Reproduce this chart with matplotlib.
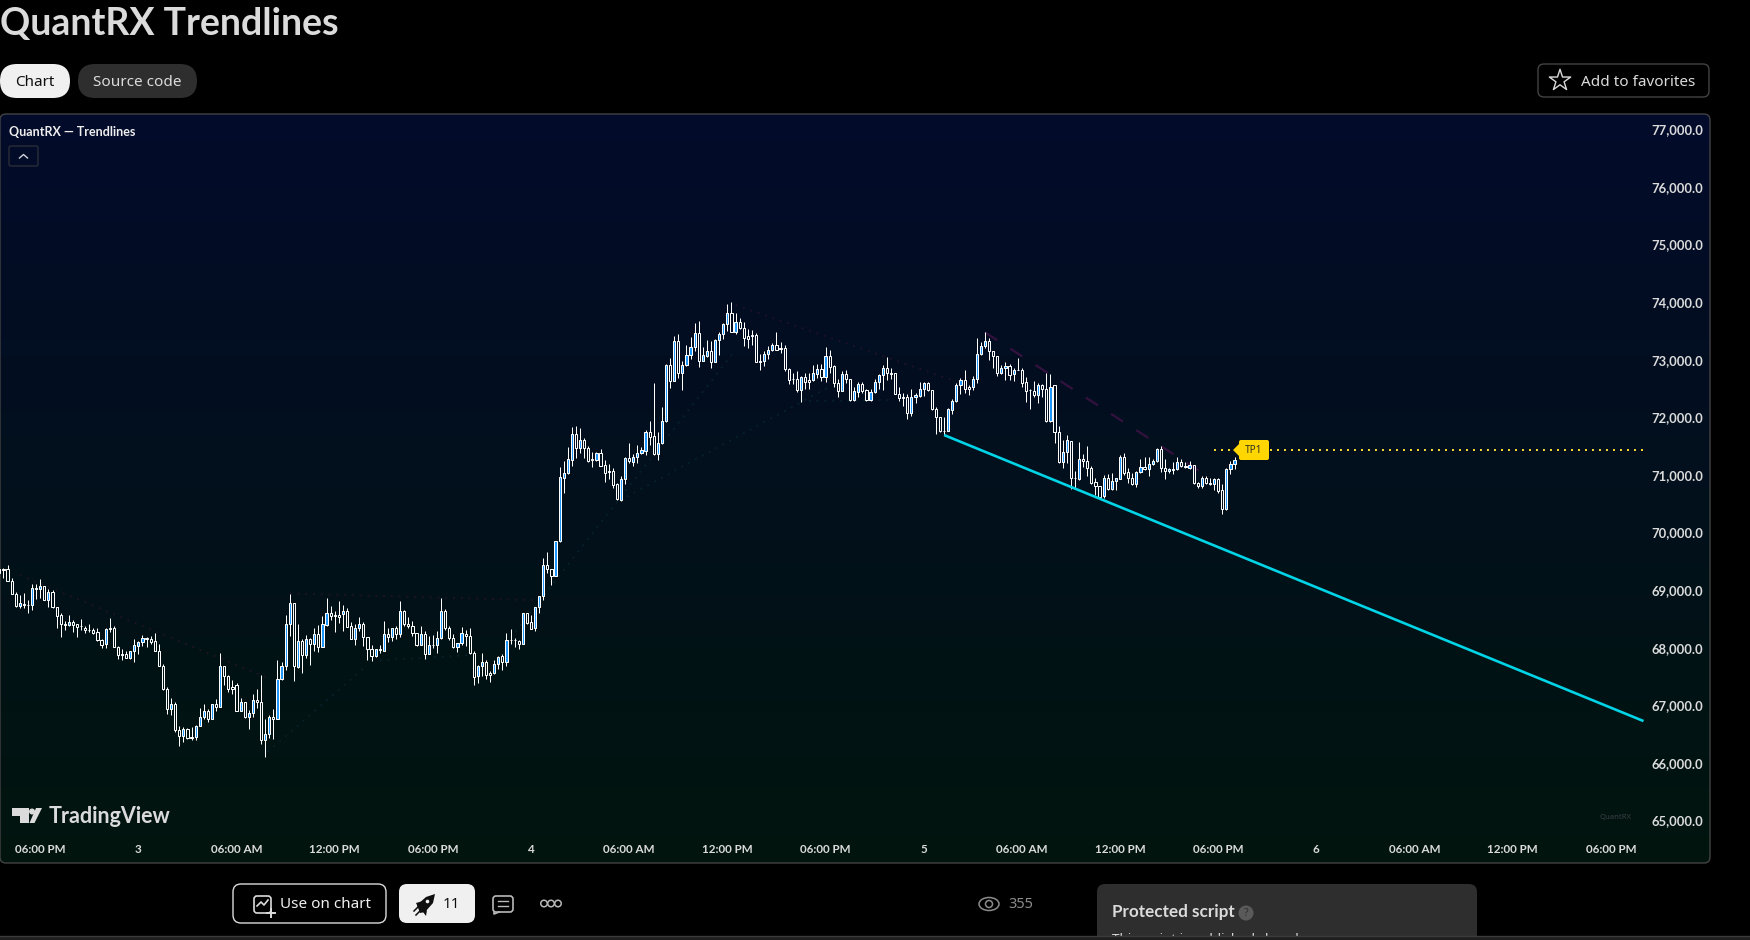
import numpy as np
import matplotlib
matplotlib.use("Agg")
import matplotlib.pyplot as plt
from matplotlib.colors import LinearSegmentedColormap
from matplotlib.patches import FancyBboxPatch, Polygon, Circle, Ellipse

plt.rcParams['font.family'] = ['Noto Sans', 'DejaVu Sans']

# 15 minute bars
opens = [69365,69370,69375,69165,68940,68725,68760,68750,68745,69045,
    69020,69070,68830,68960,68700,68575,68405,68395,68455,68405,
    68375,68350,68315,68310,68265,68140,68065,68350,68350,68015,
    67900,67900,67830,67935,68030,68100,68170,68160,68110,67950,
    67690,67290,66945,67030,66580,66470,66595,66450,66450,66645,
    66800,66910,66770,67015,66975,67675,67515,67325,67345,66910,
    67050,66790,66875,67100,67050,66400,66505,66800,66760,67465,
    67675,68405,68770,67670,68110,67880,68160,68065,68245,68015,
    68400,68610,68560,68575,68590,68645,68370,68160,68335,68405,
    68195,67970,67860,67970,67945,68245,68190,68335,68245,68630,
    68415,68385,68260,68050,68245,67895,68055,68050,68175,68645,
    68350,68175,68015,68075,68245,68210,67915,67510,67675,67745,
    67570,67570,67725,67865,67760,68140,68140,68120,68065,68610,
    68440,68335,68715,68905,69430,69360,69250,69845,70955,71025,
    71265,71705,71460,71600,71460,71270,71265,71375,71165,71060,
    71060,70835,70565,70925,71290,71230,71305,71375,71420,71740,
    71670,71355,71550,71930,72900,72635,73320,72765,72900,73075,
    73215,73460,72985,73065,73145,72965,73335,73440,73615,73805,
    73485,73650,73545,73405,73425,73425,72985,72985,73095,73165,
    73250,73195,73195,72845,72665,72660,72480,72695,72640,72640,
    72760,72835,72695,73060,72885,72590,72460,72745,72660,72295,
    72435,72570,72470,72295,72435,72605,72730,72865,72765,72765,
    72410,72345,72345,72080,72345,72365,72485,72590,72470,72140,
    72000,71770,71770,72135,72275,72555,72640,72535,72530,72660,
    73095,73230,73320,73145,73060,72775,72850,72885,72745,72830,
    72830,72605,72475,72450,72390,72555,72485,71940,72555,71740,
    71220,71390,71590,70955,70925,71270,71235,71115,70870,70800,
    70640,70955,70750,70890,70935,71305,71045,70955,70840,71045,
    71130,71095,71185,71235,71445,71120,71060,71095,71095,71220,
    71150,71125,71165,70855,70810,70955,70855,70850,70925,70730,
    70400,71095,71185]
highs = [69375,69380,69435,69210,68960,68910,68945,68825,69105,69105,
    69190,69080,69015,68995,68705,68595,68470,68575,68490,68420,
    68495,68375,68405,68350,68335,68160,68340,68515,68370,68030,
    67970,67935,67950,68150,68115,68220,68185,68200,68250,68060,
    67710,67310,67135,67050,66650,66620,66610,66630,66655,66960,
    67015,66945,67030,67105,67905,67690,67535,67435,67380,67135,
    67050,66915,67195,67290,67535,66760,66840,66945,67780,67745,
    68565,68930,68770,68410,68160,68220,68175,68335,68390,68550,
    68860,68720,68635,68820,68740,68685,68440,68415,68530,68440,
    68195,68055,67985,68040,68460,68335,68335,68375,68810,68650,
    68530,68460,68260,68375,68285,68205,68220,68285,68860,68665,
    68385,68245,68090,68355,68305,68340,67950,67695,67905,67795,
    67600,67780,67865,67900,68250,68320,68165,68140,68610,68610,
    68565,68715,68905,69565,69655,69365,69860,71135,71235,71480,
    71830,71850,71815,71635,71495,71390,71390,71445,71255,71185,
    71115,70855,70990,71305,71550,71355,71515,71485,71775,71945,
    72590,71740,72175,72920,73025,73405,73440,72975,73250,73395,
    73630,73665,73215,73335,73325,73355,73475,73630,73960,73995,
    73805,73720,73650,73525,73510,73460,73095,73145,73230,73285,
    73475,73300,73250,72850,72765,72800,72710,72765,72765,72900,
    72920,72920,73215,73165,72910,72660,72805,72830,72660,72520,
    72605,72605,72485,72485,72660,72750,72900,73045,72865,72765,
    72520,72415,72400,72485,72415,72605,72605,72605,72470,72185,
    72010,72005,72155,72310,72590,72675,72815,72555,72710,73370,
    73300,73490,73370,73145,73060,72900,72960,72920,72865,73025,
    72850,72695,72485,72630,72590,72580,72765,72745,72555,71845,
    71605,71690,71590,71060,71565,71355,71500,71150,70955,70815,
    71000,71010,71025,70955,71350,71380,71115,71025,71060,71285,
    71320,71305,71285,71460,71495,71270,71115,71220,71305,71285,
    71220,71235,71165,70870,70990,70975,70940,70950,70955,70835,
    71115,71235,71305]
lows = [69290,69210,69155,68930,68705,68685,68685,68605,68650,68845,
    68860,68825,68705,68690,68345,68190,68305,68380,68270,68190,
    68305,68260,68280,68240,68120,68000,68000,68270,68015,67800,
    67785,67820,67805,67755,67895,68025,68015,68065,67935,67675,
    67270,66850,66835,66535,66295,66365,66415,66395,66395,66635,
    66770,66710,66760,66905,66965,67350,67235,67200,66905,66895,
    66780,66590,66800,66950,66330,66105,66435,66415,66760,67440,
    67615,68205,67425,67645,67565,67825,67700,67940,67930,68010,
    68380,68485,68275,68430,68295,68355,68155,68050,68295,68030,
    67785,67770,67840,67910,67940,68095,68120,68155,68190,68385,
    68345,68210,68030,68050,67805,67895,68000,67910,68155,68310,
    68130,68000,67930,68050,68025,67895,67355,67390,67515,67460,
    67405,67545,67625,67610,67685,68065,68015,67975,68065,68415,
    68320,68285,68605,68830,69300,69085,69250,69840,70690,71015,
    71155,71300,71385,71300,71230,71145,71245,71155,70880,70935,
    70780,70570,70555,70850,71210,71160,71210,71355,71350,71520,
    71350,71265,71540,71925,72515,72635,72680,72480,72895,73020,
    73145,72880,72985,73040,72855,72960,73085,73365,73505,73475,
    73450,73540,73240,73205,73255,72960,72820,72890,73020,73145,
    73170,73120,72810,72570,72570,72445,72270,72495,72495,72635,
    72675,72635,72620,72765,72530,72360,72455,72590,72290,72290,
    72360,72415,72290,72290,72425,72490,72475,72640,72660,72405,
    72290,72195,71975,72030,72255,72345,72375,72460,72130,71710,
    71750,71685,71755,72065,72265,72400,72425,72380,72475,72590,
    73080,73195,73000,72850,72715,72755,72640,72645,72625,72820,
    72525,72270,72150,72360,72255,72345,71925,71925,71555,71200,
    71125,71200,70750,70760,70915,71145,70975,70835,70660,70595,
    70605,70735,70745,70735,70930,71000,70855,70830,70795,71040,
    71085,70980,71170,71230,71050,70935,71040,71015,71090,71135,
    71125,71100,70840,70765,70780,70835,70825,70730,70695,70325,
    70395,71020,71100]
closes = [69300,69350,69160,68935,68725,68770,68745,68745,69045,69020,
    69065,68830,68960,68700,68555,68405,68395,68455,68395,68360,
    68370,68310,68310,68260,68135,68050,68330,68330,68020,67875,
    67875,67830,67935,68040,68100,68175,68155,68100,67945,67685,
    67280,66945,67030,66575,66470,66595,66435,66435,66645,66800,
    66910,66765,67015,66975,67675,67515,67285,67285,66910,67050,
    66790,66875,67100,67050,66390,66510,66800,66755,67465,67675,
    68405,68770,67675,68110,67880,68160,68065,68245,68015,68405,
    68610,68555,68555,68535,68645,68360,68160,68335,68405,68190,
    67970,67860,67970,67965,68245,68190,68335,68240,68630,68415,
    68380,68260,68050,68245,67895,68040,68040,68175,68645,68335,
    68175,68015,68075,68260,68210,67915,67500,67680,67745,67530,
    67530,67725,67845,67760,68140,68135,68135,68065,68610,68425,
    68330,68715,68905,69430,69360,69250,69845,70960,71025,71270,
    71705,71460,71600,71460,71245,71265,71375,71160,71040,71055,
    70830,70575,70925,71290,71235,71305,71375,71425,71740,71665,
    71355,71550,71930,72900,72625,73320,72765,72900,73075,73215,
    73460,72985,73075,73145,72965,73335,73440,73615,73805,73485,
    73650,73545,73370,73365,73405,72965,72965,73095,73165,73250,
    73175,73180,72845,72640,72660,72480,72695,72605,72605,72765,
    72835,72695,73060,72875,72590,72460,72745,72660,72295,72450,
    72570,72450,72295,72435,72605,72730,72865,72765,72755,72410,
    72340,72340,72080,72345,72380,72485,72590,72470,72140,72000,
    71770,71760,72140,72275,72555,72640,72500,72500,72660,73095,
    73230,73320,73145,73060,72775,72850,72885,72730,72830,72825,
    72600,72460,72470,72390,72555,72485,71940,72535,71740,71220,
    71390,71600,70950,70940,71270,71235,71115,70865,70800,70620,
    70955,70750,70890,70940,71305,71025,70955,70840,71045,71130,
    71095,71185,71235,71445,71120,71060,71095,71090,71220,71150,
    71145,71165,70855,70815,70955,70855,70850,70925,70715,70400,
    71095,71185,71255]

price_ticks = [77000,76000,75000,74000,73000,72000,71000,70000,69000,68000,67000,66000,65000]
time_bars = [10,34,58,82,106,130,154,178,202,226,250,274,298,322,346,370,394]
time_labels = ["06:00 PM","3","06:00 AM","12:00 PM","06:00 PM","4","06:00 AM","12:00 PM",
    "06:00 PM","5","06:00 AM","12:00 PM","06:00 PM","6","06:00 AM","12:00 PM","06:00 PM"]

# trendlines: bar numbers and prices of the end points
main_bars = [231, 402]
main_prices = [71692, 66727]
dash_bars = [241, 296]
dash_prices = [73475, 70950]
tp_bars = [297, 402]
tp_prices = [71432, 71432]
# the very faint dotted lines
faint_red = [([5, 65], [69260, 67494]), ([71, 131], [68941, 68826]), ([180, 233], [73950, 72647])]
faint_green = [([65.6, 89], [66191, 67639]), ([93, 115], [67783, 67870]), ([125, 180], [68170, 73170]),
    ([153.4, 203], [70622, 72532]), ([196, 218], [72283, 72300])]

fig = plt.figure(figsize=(17.5, 9.4), dpi=100, facecolor='black')

# page chrome, in pixels
page = fig.add_axes([0, 0, 1, 1])
page.set_xlim(0, 1750)
page.set_ylim(940, 0)
page.axis('off')


def pill(ax, x0, y0, x1, y1, r, fc, ec='none', lw=1, z=2):
    p = FancyBboxPatch((x0 + r, y0 + r), x1 - x0 - 2 * r, y1 - y0 - 2 * r,
                       boxstyle="round,pad=%s,rounding_size=%s" % (r, r),
                       fc=fc, ec=ec, lw=lw, zorder=z)
    ax.add_patch(p)
    return p


panel = pill(page, 0, 114, 1710, 863, 6, 'none', '#434343', 1, 3)
cmap = LinearSegmentedColormap.from_list("bg", ["#030b2a", "#01150e"])
im = page.imshow(np.linspace(0, 1, 256).reshape(-1, 1), extent=(0, 1710, 863, 114), cmap=cmap,
                 aspect='auto', zorder=1)
im.set_clip_path(panel)
page.set_xlim(0, 1750)
page.set_ylim(940, 0)

page.text(0, 24, "QuantRX Trendlines", family='Lato', weight='bold', fontsize=27, color='#dbdbdb', va='center')
pill(page, 0, 64, 70, 98, 17, '#f0f0f0')
page.text(35, 82, "Chart", fontsize=11, color='#0f0f0f', ha='center', va='center')
pill(page, 78, 64, 197, 98, 17, '#2e2e2e')
page.text(137.5, 82, "Source code", fontsize=11, color='#dbdbdb', ha='center', va='center')
pill(page, 1538, 64, 1709, 97, 6, 'black', '#434343')
page.scatter([1560], [80.5], marker='*', s=260, fc='none', ec='#dbdbdb', lw=1, zorder=3)
page.text(1581, 82, "Add to favorites", fontsize=11, color='#dbdbdb', va='center')

page.text(9, 132, "QuantRX \u2014 Trendlines", family='Lato', weight='bold', fontsize=9, color='#eeeeee', va='center', zorder=4)
pill(page, 9, 146, 38, 166, 2, 'none', '#2a2e39', 1, 4)
page.plot([19.5, 23.5, 27.5], [158, 154.5, 158], color='#d1d4dc', lw=1, zorder=4)

# logo and watermark
page.add_patch(Polygon([(11.7, 808), (28.5, 808), (28.5, 823), (20, 823), (20, 816), (11.7, 816)], fc='#dbdbdb', zorder=4))
page.add_patch(Circle((32, 811.5), 3, fc='#dbdbdb', zorder=4))
page.add_patch(Polygon([(36, 808), (42, 808), (34.5, 823), (29.5, 823)], fc='#dbdbdb', zorder=4))
page.text(49, 816.5, "TradingView", family='Lato', weight='bold', fontsize=15.5, color='#dbdbdb', va='center', zorder=4)
page.text(1615, 817, "QuantRX", fontsize=5.5, color='#3a3f45', ha='center', va='center', zorder=4)

# row under the chart
pill(page, 233, 884, 386, 923, 8, 'black', '#dbdbdb')
pill(page, 254, 896, 271, 913, 3, 'none', '#dbdbdb', 1.2, 3)
page.plot([257, 261, 264, 268], [906, 902, 905, 900], color='#dbdbdb', lw=1.2, zorder=3)
page.plot([267, 275], [913, 913], color='#dbdbdb', lw=1.4, zorder=4)
page.plot([271, 271], [909, 917], color='#dbdbdb', lw=1.4, zorder=4)
page.text(280, 905, "Use on chart", fontsize=11, color='#f0f0f0', va='center')
pill(page, 399, 884, 475, 923, 8, '#f0f0f0')
page.add_patch(Polygon([(420, 913), (417, 905), (426, 897), (435, 894), (433, 903), (425, 912)], fc='#0f0f0f', zorder=3))
page.add_patch(Polygon([(416, 903), (423, 901), (418, 907)], fc='#0f0f0f', zorder=3))
page.add_patch(Polygon([(427, 910), (426, 916), (423, 912)], fc='#0f0f0f', zorder=3))
page.add_patch(Circle((427.5, 901.5), 1.8, fc='#f0f0f0', zorder=4))
page.plot([414, 418], [911, 907], color='#0f0f0f', lw=1.1, zorder=3)
page.plot([416, 420], [915, 911], color='#0f0f0f', lw=1.1, zorder=3)
page.text(451, 905, "11", fontsize=11, color='#0f0f0f', ha='center', va='center')
pill(page, 493, 896, 513, 912, 3, 'none', '#b8b8b8', 1.2, 3)
page.plot([494, 494, 499], [912, 914, 912], color='#b8b8b8', lw=1.2, zorder=3)
page.plot([498, 508], [901, 901], color='#b8b8b8', lw=1, zorder=3)
page.plot([498, 508], [906, 906], color='#b8b8b8', lw=1, zorder=3)
page.scatter([544, 551, 558], [903.5, 903.5, 903.5], s=22, fc='none', ec='#b8b8b8', lw=1.1, zorder=3)

page.add_patch(Ellipse((989, 904), 20, 13, fc='none', ec='#8c8c8c', lw=1.1, zorder=3))
page.add_patch(Circle((989, 904), 3.5, fc='none', ec='#8c8c8c', lw=1.1, zorder=3))
page.text(1008, 904.5, "355", fontsize=10.5, color='#8c8c8c', va='center')

pill(page, 1097, 884, 1477, 960, 8, '#2e2e2e')
page.text(1112, 912, "Protected script", family='Lato', fontsize=12.3, weight='bold', color='#dbdbdb', va='center', zorder=3)
page.add_patch(Circle((1246, 913), 7.5, fc='#5a5a5a', zorder=3))
page.text(1246, 913, "?", fontsize=7.5, weight='bold', color='#2e2e2e', ha='center', va='center', zorder=4)
page.text(1112, 940, "This script is published closed-source", fontsize=9.7, color='#dbdbdb', va='center', zorder=3)
page.add_patch(Polygon([(0, 936), (1750, 936), (1750, 940), (0, 940)], fc='#1f1f1f', ec='none', zorder=5))
page.plot([0, 1750], [936, 936], color='#3a3a3a', lw=1, zorder=6)

# chart itself
ax = fig.add_axes([0, 77 / 940, 1710 / 1750, 749 / 940])
ax.patch.set_alpha(0)
for s in ax.spines.values():
    s.set_visible(False)
ax.set_xlim(0.164, 418.25)
ax.set_ylim(64263, 77266)

x = np.arange(len(opens))
o = np.array(opens)
h = np.array(highs)
l = np.array(lows)
c = np.array(closes)
up = c >= o
top = np.maximum(o, c)
bot = np.minimum(o, c)

for xs, ys in faint_red:
    ax.plot(xs, ys, color='#1d1226', lw=1.4, ls=(0, (1, 3)), zorder=1)
for xs, ys in faint_green:
    ax.plot(xs, ys, color='#062029', lw=1.4, ls=(0, (1, 3)), zorder=1)
ax.plot(dash_bars, dash_prices, color='#33123f', lw=1.6, ls=(0, (6.5, 7)), zorder=1)

ax.vlines(x, top, h, color='white', lw=0.72, zorder=2)
ax.vlines(x, l, bot, color='white', lw=0.72, zorder=2)
ax.bar(x, top - bot, bottom=bot, width=0.53, color=['#1e96fc' if u else 'none' for u in up],
       edgecolor='white', linewidth=0.72, zorder=3)

ax.plot(main_bars, main_prices, color='#00d4e6', lw=1.9, zorder=4, solid_capstyle='butt')
ax.plot(tp_bars, tp_prices, color='#ffe135', lw=1.4, ls=(0, (1, 2.6)), zorder=4)

# TP1 label
page2 = fig.add_axes([0, 0, 1, 1])
page2.set_xlim(0, 1750)
page2.set_ylim(940, 0)
page2.axis('off')
pill(page2, 1239, 440, 1269, 460, 2, '#ffd600', 'none', 1, 5)
page2.add_patch(Polygon([(1233, 450), (1240, 443), (1240, 457)], fc='#ffd600', zorder=5))
page2.text(1254, 450.5, "TP1", fontsize=7.2, color='#333320', ha='center', va='center', zorder=6)

ax.set_yticks(price_ticks)
ax.set_yticklabels(["{:,.1f}".format(p) for p in price_ticks])
ax.yaxis.tick_right()
ax.tick_params(axis='y', length=0, pad=-5, labelsize=9.4, labelcolor='#dbdbdb')
for t in ax.get_yticklabels():
    t.set_ha('right')
    t.set_family('Lato')
    t.set_weight('bold')
ax.set_xticks(time_bars)
ax.set_xticklabels(time_labels)
ax.tick_params(axis='x', length=0, pad=-13.5, labelsize=8.4, labelcolor='#dbdbdb')
for t in ax.get_xticklabels():
    t.set_family('Lato')
    t.set_weight('bold')

fig.savefig("out.png", dpi=100, facecolor='black')
plt.close()
